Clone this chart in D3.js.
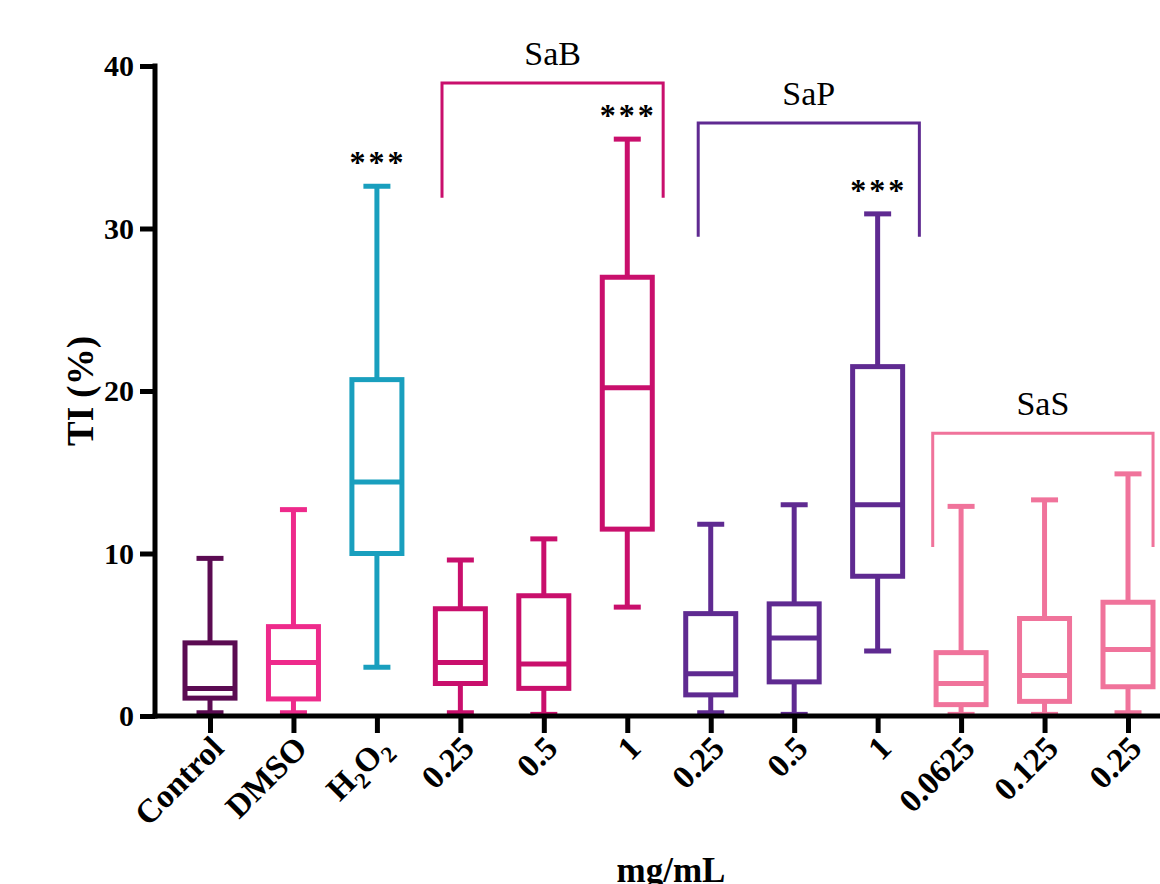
<!DOCTYPE html>
<html>
<head>
<meta charset="utf-8">
<script src="https://cdn.jsdelivr.net/npm/d3@7"></script>
<style>
  html, body { margin: 0; padding: 0; background: #fff; }
  svg { display: block; }
</style>
</head>
<body>
<div id="chart"></div>
<script>
// Categories along the x axis
const categories = ["Control", "DMSO", "H2O2", "SaB 0.25", "SaB 0.5", "SaB 1",
  "SaP 0.25", "SaP 0.5", "SaP 1", "SaS 0.0625", "SaS 0.125", "SaS 0.25"];
const tickLabels = ["Control", "DMSO", "H2O2", "0.25", "0.5", "1",
  "0.25", "0.5", "1", "0.0625", "0.125", "0.25"];

// Box plot statistics (TI %)
const mins    = [0.2, 0.2, 3.0, 0.2, 0.1, 6.7, 0.2, 0.1, 4.0, 0.1, 0.1, 0.2];
const q1s     = [1.1, 1.05, 10.0, 2.0, 1.7, 11.5, 1.3, 2.1, 8.6, 0.7, 0.9, 1.8];
const medians = [1.7, 3.3, 14.4, 3.3, 3.2, 20.2, 2.6, 4.8, 13.0, 2.0, 2.5, 4.1];
const q3s     = [4.5, 5.5, 20.7, 6.6, 7.4, 27.0, 6.3, 6.9, 21.5, 3.9, 6.0, 7.0];
const maxs    = [9.7, 12.7, 32.6, 9.6, 10.9, 35.5, 11.8, 13.0, 30.9, 12.9, 13.3, 14.9];

const colors = ["#5b0b52", "#ee2a8b", "#199fbe", "#c90f6c", "#c90f6c", "#c90f6c",
  "#5f2a91", "#5f2a91", "#5f2a91", "#f0739b", "#f0739b", "#f0739b"];

// Significance marks
const stars = [{ idx: 2, label: "***" }, { idx: 5, label: "***" }, { idx: 8, label: "***" }];

// Group brackets: from/to in category index units, top/bottom in TI units
const brackets = [
  { name: "SaB", from: 2.78, to: 5.43, top: 38.95, bottom: 31.9, color: "#c90f6c" },
  { name: "SaP", from: 5.85, to: 8.50, top: 36.5, bottom: 29.5, color: "#5f2a91" },
  { name: "SaS", from: 8.66, to: 11.3, top: 17.4, bottom: 10.4, color: "#f0739b" }
];

const yTicks = [0, 10, 20, 30, 40];

const width = 1160, height = 884;
const font = "'Liberation Serif', 'Times New Roman', serif";

const svg = d3.select("#chart").append("svg")
  .attr("width", width).attr("height", height);

const x = d3.scalePoint().domain(d3.range(categories.length)).range([210, 1128]);
const step = x.step();
const xIdx = (v) => x(0) + v * step;
const y = d3.scaleLinear().domain([0, 40]).range([716, 66]);

const boxW = 50, capW = 27, lw = 5;

// Boxes
const boxes = svg.append("g").selectAll(".box")
  .data(categories.map((c, i) => ({ i, min: mins[i], q1: q1s[i], med: medians[i], q3: q3s[i], max: maxs[i], color: colors[i] })))
  .enter().append("g").attr("class", "box");

boxes.append("line")
  .attr("x1", d => x(d.i)).attr("x2", d => x(d.i))
  .attr("y1", d => y(d.max)).attr("y2", d => y(d.q3))
  .attr("stroke", d => d.color).attr("stroke-width", lw);
boxes.append("line")
  .attr("x1", d => x(d.i)).attr("x2", d => x(d.i))
  .attr("y1", d => y(d.q1)).attr("y2", d => y(d.min))
  .attr("stroke", d => d.color).attr("stroke-width", lw);
boxes.append("line")
  .attr("x1", d => x(d.i) - capW / 2).attr("x2", d => x(d.i) + capW / 2)
  .attr("y1", d => y(d.max)).attr("y2", d => y(d.max))
  .attr("stroke", d => d.color).attr("stroke-width", lw);
boxes.append("line")
  .attr("x1", d => x(d.i) - capW / 2).attr("x2", d => x(d.i) + capW / 2)
  .attr("y1", d => y(d.min)).attr("y2", d => y(d.min))
  .attr("stroke", d => d.color).attr("stroke-width", lw);
boxes.append("rect")
  .attr("x", d => x(d.i) - boxW / 2).attr("width", boxW)
  .attr("y", d => y(d.q3)).attr("height", d => y(d.q1) - y(d.q3))
  .attr("fill", "none").attr("stroke", d => d.color).attr("stroke-width", lw);
boxes.append("line")
  .attr("x1", d => x(d.i) - boxW / 2).attr("x2", d => x(d.i) + boxW / 2)
  .attr("y1", d => y(d.med)).attr("y2", d => y(d.med))
  .attr("stroke", d => d.color).attr("stroke-width", lw);

// Axes
const yAxis = d3.axisLeft(y).tickValues(yTicks).tickSize(15).tickPadding(6);
const gy = svg.append("g").attr("transform", "translate(155,0)").call(yAxis);
gy.select(".domain").remove();
gy.append("line").attr("x1", 0).attr("x2", 0).attr("y1", y(40) - 2.5).attr("y2", y(0) + 2.5)
  .attr("stroke", "#000").attr("stroke-width", lw);
gy.selectAll(".tick line").attr("stroke", "#000").attr("stroke-width", lw);
gy.selectAll(".tick text")
  .attr("font-family", font).attr("font-size", 30).attr("font-weight", "bold").attr("fill", "#000");

const xAxis = d3.axisBottom(x).tickSize(17).tickFormat(() => "");
const gx = svg.append("g").attr("transform", "translate(0,716)").call(xAxis);
gx.select(".domain").remove();
gx.append("line").attr("x1", 152.5).attr("x2", 1170).attr("y1", 0).attr("y2", 0)
  .attr("stroke", "#000").attr("stroke-width", lw);
gx.selectAll(".tick line").attr("stroke", "#000").attr("stroke-width", lw);

// Rotated tick labels
const labels = gx.selectAll(".tick").append("text")
  .attr("font-family", font).attr("font-size", 33).attr("font-weight", "bold").attr("fill", "#000")
  .attr("text-anchor", "end")
  .attr("transform", "translate(15,34) rotate(-45)");
labels.each(function (d) {
  const t = d3.select(this);
  if (tickLabels[d] === "H2O2") {
    t.append("tspan").text("H");
    t.append("tspan").attr("font-size", 23).attr("dy", 8).text("2");
    t.append("tspan").attr("dy", -8).text("O");
    t.append("tspan").attr("font-size", 23).attr("dy", 8).text("2");
  } else {
    t.text(tickLabels[d]);
  }
});

// Axis titles
svg.append("text")
  .attr("transform", `translate(93,${y(20)}) rotate(-90)`)
  .attr("text-anchor", "middle")
  .attr("font-family", font).attr("font-size", 37).attr("font-weight", "bold")
  .text("TI (%)");
svg.append("text")
  .attr("x", 671).attr("y", 882)
  .attr("text-anchor", "middle")
  .attr("font-family", font).attr("font-size", 35).attr("font-weight", "bold")
  .text("mg/mL");

// Brackets
const br = svg.append("g").selectAll(".bracket").data(brackets).enter().append("g");
br.append("path")
  .attr("d", d => `M${xIdx(d.from)},${y(d.bottom)}V${y(d.top)}H${xIdx(d.to)}V${y(d.bottom)}`)
  .attr("fill", "none").attr("stroke", d => d.color).attr("stroke-width", 3);
br.append("text")
  .attr("x", d => (xIdx(d.from) + xIdx(d.to)) / 2)
  .attr("y", d => y(d.top) - 18)
  .attr("text-anchor", "middle")
  .attr("font-family", font).attr("font-size", 34)
  .text(d => d.name);

// Stars
svg.append("g").selectAll("text").data(stars).enter().append("text")
  .attr("x", d => x(d.idx) + 1)
  .attr("y", d => y(maxs[d.idx]) - 13)
  .attr("text-anchor", "middle")
  .attr("font-family", font).attr("font-size", 32).attr("font-weight", "bold")
  .attr("letter-spacing", 3)
  .text(d => d.label);
</script>
</body>
</html>
